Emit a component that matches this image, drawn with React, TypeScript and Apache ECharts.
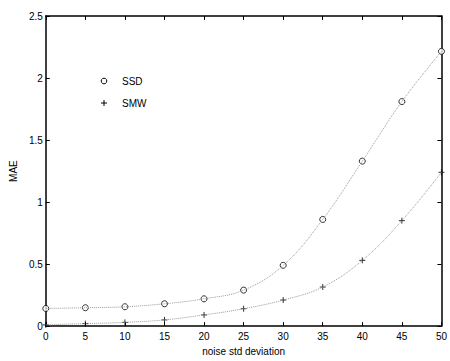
import React, { useEffect, useRef } from "react";
import * as echarts from "echarts";

const xValues = [0, 5, 10, 15, 20, 25, 30, 35, 40, 45, 50];
const ssd = [0.142, 0.148, 0.156, 0.18, 0.22, 0.29, 0.49, 0.86, 1.33, 1.81, 2.215];
const smw = [0.01, 0.02, 0.03, 0.05, 0.09, 0.14, 0.21, 0.315, 0.53, 0.85, 1.24];
const seriesNames = ["SSD", "SMW"];

const PLUS = "path://M0,5 L10,5 M5,0 L5,10";

export default function App() {
  const ref = useRef<HTMLDivElement>(null);
  useEffect(() => {
    const chart = echarts.init(ref.current!, null, { renderer: "svg" });
    const font = "Liberation Sans, Arial, sans-serif";
    const axisBase = {
      type: "value" as const,
      axisLine: { show: true, onZero: false, lineStyle: { color: "#000", width: 1.5 } },
      axisTick: { show: true, inside: true, length: 4, lineStyle: { color: "#000" } },
      splitLine: { show: false },
    };
    const pair = (vals: number[]) => xValues.map((x, i) => [x, vals[i]]);
    chart.setOption({
      animation: false,
      grid: { left: 42, right: 7, top: 16, bottom: 29, containLabel: false },
      xAxis: [
        {
          ...axisBase,
          position: "bottom",
          min: 0,
          max: 50,
          interval: 5,
          axisLabel: { color: "#000", fontSize: 10, fontFamily: font, margin: 5 },
          name: "noise std deviation",
          nameLocation: "middle",
          nameGap: 17,
          nameTextStyle: { color: "#000", fontSize: 10, fontFamily: font },
        },
        {
          ...axisBase,
          position: "top",
          min: 0,
          max: 50,
          interval: 5,
          axisLabel: { show: false },
        },
      ],
      yAxis: [
        {
          ...axisBase,
          position: "left",
          min: 0,
          max: 2.5,
          interval: 0.5,
          axisLabel: { color: "#000", fontSize: 10, fontFamily: font, margin: 3 },
          name: "MAE",
          nameLocation: "middle",
          nameGap: 26,
          nameRotate: 90,
          nameTextStyle: { color: "#000", fontSize: 10, fontFamily: font },
        },
        {
          ...axisBase,
          position: "right",
          min: 0,
          max: 2.5,
          interval: 0.5,
          axisLabel: { show: false },
        },
      ],
      series: [
        {
          name: seriesNames[0] + " fit",
          type: "line",
          data: pair(ssd),
          smooth: 0.4,
          showSymbol: false,
          lineStyle: { color: "#999", type: "dotted", width: 1 },
          silent: true,
        },
        {
          name: seriesNames[1] + " fit",
          type: "line",
          data: pair(smw),
          smooth: 0.4,
          showSymbol: false,
          lineStyle: { color: "#999", type: "dotted", width: 1 },
          silent: true,
        },
        {
          name: seriesNames[0],
          type: "scatter",
          data: pair(ssd),
          symbol: "circle",
          symbolSize: 6,
          itemStyle: { color: "#fff", borderColor: "#000", borderWidth: 1 },
        },
        {
          name: seriesNames[1],
          type: "scatter",
          data: pair(smw),
          symbol: PLUS,
          symbolSize: 6,
          itemStyle: { color: "transparent", borderColor: "#000", borderWidth: 1 },
        },
      ],
      graphic: [
        {
          type: "circle",
          shape: { cx: 104, cy: 81, r: 2.8 },
          style: { fill: "#fff", stroke: "#000", lineWidth: 1 },
        },
        {
          type: "text",
          x: 122,
          y: 81,
          style: { text: seriesNames[0], fill: "#000", fontSize: 10, fontFamily: font, verticalAlign: "middle" },
        },
        {
          type: "line",
          shape: { x1: 101, y1: 103, x2: 107, y2: 103 },
          style: { stroke: "#000", lineWidth: 1 },
        },
        {
          type: "line",
          shape: { x1: 104, y1: 100, x2: 104, y2: 106 },
          style: { stroke: "#000", lineWidth: 1 },
        },
        {
          type: "text",
          x: 122,
          y: 103,
          style: { text: seriesNames[1], fill: "#000", fontSize: 10, fontFamily: font, verticalAlign: "middle" },
        },
      ],
    });
    return () => chart.dispose();
  }, []);
  return <div ref={ref} style={{ width: 450, height: 361, position: "absolute", left: 0, top: 0 }} />;
}
